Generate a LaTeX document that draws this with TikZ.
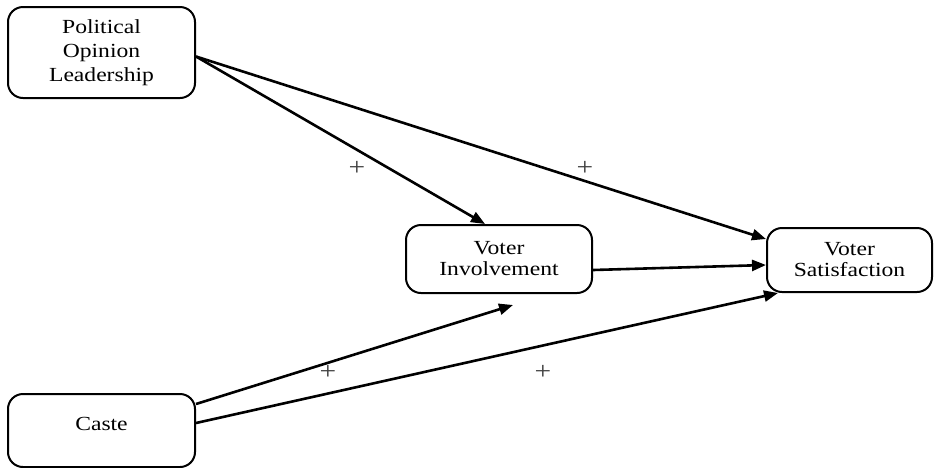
\documentclass[tikz,border=0pt]{standalone}
\usepackage{fontspec}
\setmainfont[FakeStretch=1.18]{Liberation Serif}
\usetikzlibrary{arrows.meta}
\begin{document}
\begin{tikzpicture}[x=1pt,y=-1pt,
  box/.style={draw,line width=2pt,rounded corners=15pt,align=center,
    font=\fontsize{20}{21}\selectfont,inner sep=0pt},
  arr/.style={line width=2.6pt,-{Triangle[length=14pt,width=11pt]}},
  plus/.style={font=\fontsize{25}{26}\selectfont,text=black!75,inner sep=0pt}]
\useasboundingbox (0,0) rectangle (935,467);
\node[box,minimum width=187pt,minimum height=91pt,font=\fontsize{20}{24}\selectfont] (pol) at (101.5,52.5) {Political\\Opinion\\Leadership};
\node[box,minimum width=186pt,minimum height=68pt] (vi) at (499,259) {Voter\\Involvement};
\node[box,minimum width=165pt,minimum height=64pt] (vs) at (849.5,260) {Voter\\Satisfaction};
\node[box,minimum width=187pt,minimum height=73pt,text depth=14pt] (caste) at (101.5,430.5) {Caste};
\coordinate (viin) at (513,305);
\draw[arr] ([yshift=-4pt]pol.east) -- ([yshift=21pt]vs.west);
\draw[arr] ([yshift=-4pt]pol.east) -- ([xshift=-14pt]vi.north);
\draw[arr] ([yshift=-11pt]vi.east) -- ([yshift=-5pt]vs.west);
\draw[arr] ([yshift=26.5pt]caste.east) -- (viin);
\draw[arr] ([yshift=7.5pt]caste.east) -- ([xshift=-71.5pt]vs.south);
\node[plus] (p1) at (357,168) {+};
\node[plus] (p2) at (585,168) {+};
\node[plus] (p3) at (328,372) {+};
\node[plus] (p4) at (543,372) {+};
\end{tikzpicture}
\end{document}
